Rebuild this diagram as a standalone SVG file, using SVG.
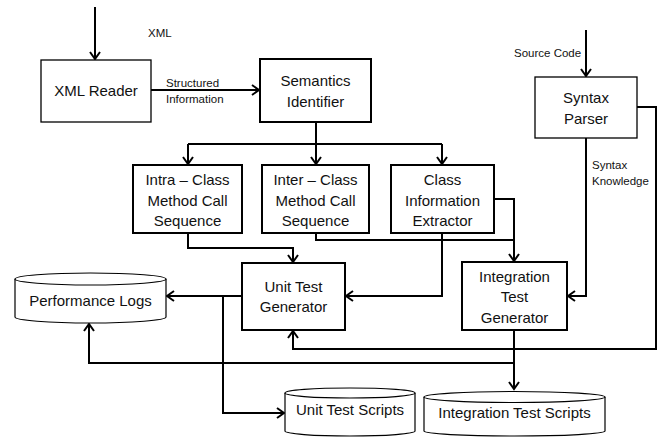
<svg xmlns="http://www.w3.org/2000/svg" width="664" height="437" viewBox="0 0 664 437">
<style>
.box{fill:#fff;stroke:#000;stroke-width:2}
.thin{fill:#fff;stroke:#000;stroke-width:1.3}
.cyl{fill:#fff;stroke:#000;stroke-width:1.2}
.t{font-family:"Liberation Sans",Arial,sans-serif;font-size:15px;fill:#111;text-anchor:middle}
.s{font-family:"Liberation Sans",Arial,sans-serif;font-size:11.5px;fill:#111}
.c{fill:none;stroke:#000;stroke-width:2}
.a{marker-end:url(#arr)}
</style>
<defs>
<marker id="arr" markerWidth="12" markerHeight="12" refX="9" refY="6" orient="auto" markerUnits="userSpaceOnUse">
<path d="M2,1 L9,6 L2,11" fill="none" stroke="#000" stroke-width="2"/>
</marker>
</defs>
<g id="connectors">
<path class="c a" d="M95,7 V59"/>
<path class="c a" d="M151,90 H259"/>
<path class="c" d="M316,122 V144"/>
<path class="c" d="M188,144 H442"/>
<path class="c a" d="M188,144 V164"/>
<path class="c a" d="M316,144 V164"/>
<path class="c a" d="M442,144 V164"/>
<path class="c a" d="M188,233 V248 H293 V262"/>
<path class="c a" d="M316,233 V240 H514 V261"/>
<path class="c" d="M494,199 H514 V240"/>
<path class="c a" d="M442,233 V296 H346"/>
<path class="c a" d="M586,30 V76"/>
<path class="c a" d="M586,138 V296 H568"/>
<path class="c a" d="M637,107 H656 V349 H293 V331"/>
<path class="c a" d="M242,296 H167"/>
<path class="c a" d="M223,296 V413 H284"/>
<path class="c a" d="M514,330 V389"/>
<path class="c a" d="M514,363 H89 V324"/>
</g>
<text class="s" x="148" y="37">XML</text>
<text class="s" x="166" y="87">Structured</text>
<text class="s" x="166" y="103">Information</text>
<text class="s" x="514" y="57">Source Code</text>
<text class="s" x="592" y="169">Syntax</text>
<text class="s" x="592" y="185">Knowledge</text>
<g id="xml-reader">
<rect class="thin" x="41" y="60" width="110" height="62"/>
<text class="t" x="96" y="96">XML Reader</text>
</g>
<g id="semantics-identifier">
<rect class="box" x="260" y="59" width="111" height="63"/>
<text class="t" x="315.5" y="86">Semantics</text>
<text class="t" x="315.5" y="107">Identifier</text>
</g>
<g id="intra-class">
<rect class="box" x="133" y="165" width="109" height="68"/>
<text class="t" x="187.5" y="185">Intra – Class</text>
<text class="t" x="187.5" y="206">Method Call</text>
<text class="t" x="187.5" y="226">Sequence</text>
</g>
<g id="inter-class">
<rect class="box" x="262" y="165" width="107" height="68"/>
<text class="t" x="315.5" y="185">Inter – Class</text>
<text class="t" x="315.5" y="206">Method Call</text>
<text class="t" x="315.5" y="226">Sequence</text>
</g>
<g id="class-info">
<rect class="box" x="391" y="165" width="103" height="68"/>
<text class="t" x="442.5" y="185">Class</text>
<text class="t" x="442.5" y="206">Information</text>
<text class="t" x="442.5" y="226">Extractor</text>
</g>
<g id="syntax-parser">
<rect class="thin" x="535" y="77" width="102" height="61"/>
<text class="t" x="586" y="103">Syntax</text>
<text class="t" x="586" y="124">Parser</text>
</g>
<g id="unit-test-generator">
<rect class="box" x="242" y="263" width="103" height="67"/>
<text class="t" x="293.5" y="292">Unit Test</text>
<text class="t" x="293.5" y="312">Generator</text>
</g>
<g id="integration-test-generator">
<rect class="box" x="462" y="262" width="105" height="68"/>
<text class="t" x="514.5" y="282">Integration</text>
<text class="t" x="514.5" y="302">Test</text>
<text class="t" x="514.5" y="323">Generator</text>
</g>
<g id="performance-logs">
<path class="cyl" d="M15,279 V317 A75.5,6 0 0 0 166,317 V279"/>
<ellipse class="cyl" cx="90.5" cy="279" rx="75.5" ry="6"/>
<text class="t" x="90.5" y="306">Performance Logs</text>
</g>
<g id="unit-test-scripts">
<path class="cyl" d="M285,393 V431 A65,5 0 0 0 415,431 V393"/>
<ellipse class="cyl" cx="350" cy="393" rx="65" ry="5"/>
<text class="t" x="350" y="415">Unit Test Scripts</text>
</g>
<g id="integration-test-scripts">
<path class="cyl" d="M424,397 V431 A90.5,5 0 0 0 605,431 V397"/>
<ellipse class="cyl" cx="514.5" cy="397" rx="90.5" ry="5.5"/>
<text class="t" x="514.5" y="418">Integration Test Scripts</text>
</g>
</svg>
